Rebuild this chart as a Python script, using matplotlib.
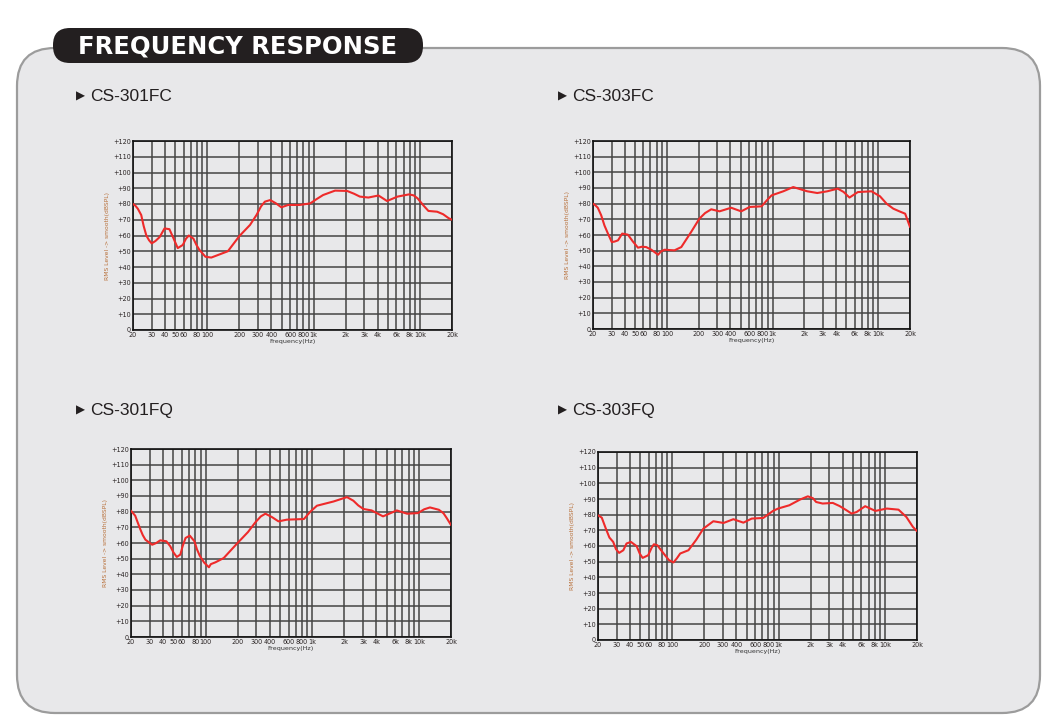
import matplotlib
matplotlib.use("Agg")
import matplotlib.pyplot as plt
from matplotlib.patches import FancyBboxPatch

# frequency response readings (Hz, dBSPL)
freq_301fc = [20, 21, 22.2, 23.9, 25.2, 26.7, 28.3, 30, 32.5, 35.6, 39.6, 44, 47.5, 52.7, 58.8,
              63, 67, 74, 79, 84, 96, 109, 156, 200, 252, 290, 320, 348, 390, 440, 497, 576, 740,
              929, 1060, 1227, 1590, 2060, 2400, 2720, 3270, 4070, 4900, 6150, 7880, 8700, 9490,
              10800, 12000, 14500, 16500, 18600, 20000]
spl_301fc = [80, 79, 77, 73, 66, 60, 57, 55, 56.5, 59, 64.5, 64, 59, 52, 54,
             58, 60, 58, 54, 51, 46.5, 46, 50, 59.6, 66.7, 73, 78.5, 81.5, 82.5, 80.5, 77.9, 79.4,
             79.4, 80.4, 83, 85.7, 88.5, 88.3, 86.5, 84.7, 84.1, 85.4, 81.9, 84.7, 86.1, 85.5,
             83.6, 79, 75.6, 75.1, 73.5, 71, 70]

freq_303fc = [20, 21, 22.2, 23.9, 25.7, 27.7, 30.1, 32, 34.5, 37.8, 42.8, 47.5, 53.3, 58, 63.7,
              71.3, 82.6, 88, 95.1, 118, 137, 170, 203, 230, 263, 315, 406, 505, 608, 788, 880,
              980, 1265, 1570, 2130, 2650, 3300, 4140, 4700, 5350, 6420, 8640, 10400, 12000,
              13900, 16000, 18000, 20000]
spl_303fc = [80, 79, 77.4, 72.6, 66, 60.9, 55.5, 55.8, 56.6, 60.9, 60.2, 56, 51.9, 52.5, 52.3,
             50.6, 47.4, 49.5, 50.6, 50.2, 52.3, 62, 70.4, 74, 76.4, 75.1, 77.4, 75.1, 77.9, 78.3,
             82, 85.3, 87.9, 90.6, 87.9, 86.8, 87.9, 89.6, 87.5, 83.9, 87.4, 87.9, 84.7, 80,
             76.8, 75, 73.6, 65.1]

freq_301fq = [20, 21.9, 23, 24.4, 25.8, 27.3, 31.6, 34.5, 37.6, 42.9, 46.7, 50, 53.7, 58, 61,
              64.9, 71.1, 78.7, 83, 88.2, 97, 107.5, 112, 124, 148, 197, 250, 293, 330, 364, 420,
              483, 578, 835, 967, 1107, 1585, 2116, 2430, 2700, 3020, 3600, 4610, 5400, 6200,
              7750, 9800, 11200, 12700, 15400, 17000, 18200, 20000]
spl_301fq = [80.6, 77.4, 73.5, 68.9, 65, 62.1, 58.9, 60, 61.7, 61.1, 57.9, 54, 51.1, 52.6, 58,
             63.2, 64.7, 61.1, 56, 51.9, 47.5, 44.5, 46.5, 47.7, 50.4, 59.6, 67, 73.2, 77, 78.7,
             76.5, 73.8, 74.9, 75.3, 80.2, 83.8, 86.5, 89.3, 87, 84, 81.7, 80.8, 77, 79, 80.8,
             78.7, 79.1, 81.5, 82.7, 81.2, 79, 76, 71.5]

freq_303fq = [20, 21.7, 23.7, 25.6, 27.8, 29.5, 31.6, 34.6, 37.1, 40.8, 46.2, 49.5, 52.6, 59.3,
              64, 67.1, 72.2, 78, 85.4, 93, 102.5, 110, 118.6, 141.8, 168, 196, 243, 303, 375,
              466, 558, 716, 885, 988, 1260, 1585, 1880, 2100, 2250, 2590, 3230, 3740, 4300,
              4850, 5410, 6510, 8120, 10400, 13400, 15900, 18300, 20000]
spl_303fq = [79.6, 78.1, 71.1, 65.4, 62.6, 58, 55.6, 57.3, 61.6, 62.6, 59.9, 55, 52.4, 54.1,
             59, 61.1, 60.5, 57.5, 54.1, 51, 49.5, 52, 55.2, 57.3, 64, 71.1, 75.8, 74.7, 77.1,
             74.9, 77.5, 77.9, 82.4, 83.9, 86, 89.6, 91.7, 90.5, 88.1, 87.1, 87.5, 85.5, 83,
             80.7, 81.7, 85.4, 82.4, 83.9, 83.2, 78.5, 72.2, 69.5]

titles = ["CS-301FC", "CS-303FC", "CS-301FQ", "CS-303FQ"]

grid_freqs = [20, 30, 40, 50, 60, 70, 80, 90, 100, 200, 300, 400, 500, 600, 700, 800, 900,
              1000, 2000, 3000, 4000, 5000, 6000, 7000, 8000, 9000, 10000, 20000]
grid_labels = ["20", "30", "40", "50", "60", "", "80", "", "100", "200", "300", "400", "",
               "600", "", "800", "", "1k", "2k", "3k", "4k", "", "6k", "", "8k", "", "10k", "20k"]
db_ticks = list(range(0, 121, 10))
db_labels = ["0"] + ["+%d" % v for v in db_ticks[1:]]

W, H = 1055, 725
PANEL = "#e8e8ea"

fig = plt.figure(figsize=(W / 100, H / 100), dpi=100)
fig.patch.set_facecolor("white")

# background layer in pixel coordinates
bg = fig.add_axes([0, 0, 1, 1])
bg.set_xlim(0, W)
bg.set_ylim(H, 0)
bg.axis("off")
bg.add_patch(FancyBboxPatch((17, 48), 1023, 665, boxstyle="round,pad=0,rounding_size=38",
                            facecolor=PANEL, edgecolor="#9c9c9c", linewidth=1.6, zorder=1))
bg.add_patch(FancyBboxPatch((53, 28), 370, 35, boxstyle="round,pad=0,rounding_size=17",
                            facecolor="#231f20", edgecolor="none", zorder=2))
bg.text(78, 46, "FREQUENCY RESPONSE", color="white", fontsize=17.5, fontweight="bold",
        family="DejaVu Sans", ha="left", va="center", zorder=3)

title_pos = [(77, 96), (559, 96), (77, 410), (559, 410)]
for (tx, ty), t in zip(title_pos, titles):
    bg.text(tx - 1, ty, "\u25b6", fontsize=8.5, color="#231f20", ha="left", va="center",
            family=["DejaVu Sans"])
    bg.text(tx + 13, ty, t, fontsize=12.5, color="#231f20", ha="left", va="center",
            family=["Liberation Sans", "DejaVu Sans"])

boxes = [(133, 141, 452, 330), (593, 141, 910, 329), (131, 449, 451, 637), (598, 452, 917, 640)]
series = [(freq_301fc, spl_301fc), (freq_303fc, spl_303fc),
          (freq_301fq, spl_301fq), (freq_303fq, spl_303fq)]

for (x0, y0, x1, y1), (f, s) in zip(boxes, series):
    ax = fig.add_axes([x0 / W, 1 - y1 / H, (x1 - x0) / W, (y1 - y0) / H])
    ax.set_facecolor(PANEL)
    ax.set_xscale("log")
    ax.set_xlim(20, 20000)
    ax.set_ylim(0, 120)
    ax.set_xticks(grid_freqs)
    ax.set_xticklabels(grid_labels)
    ax.xaxis.set_minor_locator(matplotlib.ticker.NullLocator())
    ax.set_yticks(db_ticks)
    ax.set_yticklabels(db_labels)
    ax.tick_params(length=0, labelsize=4.7, labelcolor="#2a2424", pad=1.5)
    ax.grid(True, color="#444444", linewidth=1.1)
    ax.set_axisbelow(True)
    for sp in ax.spines.values():
        sp.set_color("#111111")
        sp.set_linewidth(1.2)
    ax.plot(f, s, color="#ee2a2a", linewidth=1.5, solid_joinstyle="round",
            solid_capstyle="round", zorder=3)
    ax.set_xlabel("Frequency(Hz)", fontsize=4.6, color="#333333", labelpad=0.5)
    ax.set_ylabel("RMS Level -> smooth(dBSPL)", fontsize=4.3, color="#b8703a", labelpad=2)

fig.savefig("out.png", dpi=100, facecolor="white")
